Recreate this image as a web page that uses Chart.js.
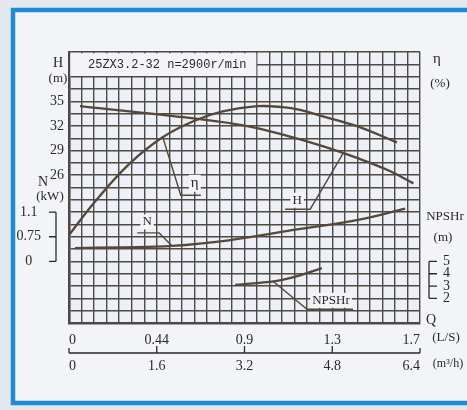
<!DOCTYPE html>
<html>
<head>
<meta charset="utf-8">
<script src="https://cdn.jsdelivr.net/npm/chart.js@4.4.1/dist/chart.umd.min.js"></script>
<style>
  html, body { margin: 0; padding: 0; background: #e3e8ee; }
  canvas { display: block; }
</style>
</head>
<body>
<canvas id="pumpChart" width="467" height="410"></canvas>
<script>
// --- data (flow in m3/h) ---
const title = '25ZX3.2-32 n=2900r/min';

const qHead = [0.2, 1.7, 3.15, 4.03, 4.64, 5.25, 5.85, 6.28];
const head = [34.4, 33.35, 32.1, 30.7, 29.5, 28.1, 26.5, 25.0];

const qEta = [0, 0.48, 1.09, 1.7, 2.3, 2.8, 3.43, 3.9, 4.21, 4.63, 5.25, 5.98];
const eta = [-14.3, -0.6, 14.4, 25.3, 32.2, 35.9, 38.0, 37.6, 36.5, 33.9, 29.9, 23.3];

const qPower = [0.11, 0.93, 1.88, 2.91, 4.13, 5.34, 6.13];
const power = [0.59, 0.6, 0.62, 0.7, 0.85, 1.0, 1.15];

const qNpsh = [3.03, 3.76, 4.13, 4.61];
const npshr = [3.1, 3.4, 3.76, 4.45];

// tick labels
const qLsLabels = ['0', '0.44', '0.9', '1.3', '1.7'];
const qM3Labels = ['0', '1.6', '3.2', '4.8', '6.4'];
const headTicks = [26, 29, 32, 35];
const powerTicks = [0.4, 0.75, 1.1];      // axis is broken: bottom tick is printed as 0
const powerTickLabels = ['0', '0.75', '1.1'];
const etaTicks = [15, 25, 35];
const npshTicks = [2, 3, 4, 5];

// --- styles ---
const gridColor = '#4f4944';
const curveColor = '#56473b';
const textColor = '#2c2826';
const paperColor = '#f2f4f8';
const serif = '"Liberation Serif", "Times New Roman", serif';
const numFont = { family: serif, size: 14 };
const COLS = 28, ROWS = 22;

const pts = (xs, ys) => xs.map((x, i) => ({ x: x, y: ys[i] }));
const curve = (label, xs, ys, axis) => ({
    label: label,
    data: pts(xs, ys),
    yAxisID: axis,
    showLine: true,
    borderColor: curveColor,
    borderWidth: 2.3,
    pointRadius: 0,
    tension: 0.4
});

// labels with leader lines: anchor on curve at q, elbow offset, run, text offset from elbow
const curveLabels = [
    { text: 'η', ds: 1, q: 1.71, dx: 18, dy: 58, run: 20, tx: 14, ty: -12, size: 15 },
    { text: 'N', ds: 2, q: 1.88, dx: -13, dy: -13, run: -22, tx: -12, ty: -11, size: 13 },
    { text: 'H', ds: 0, q: 5.0, dx: -33, dy: 56, run: -25, tx: -13, ty: -9, size: 13 },
    { text: 'NPSHr', ds: 3, q: 3.72, dx: 34, dy: 28, run: 46, tx: 24, ty: -9, size: 13 }
];

function interp(xs, ys, q) {
    for (let i = 0; i < xs.length - 1; i++) {
        if (q >= xs[i] && q <= xs[i + 1]) {
            const t = (q - xs[i]) / (xs[i + 1] - xs[i]);
            return ys[i] + t * (ys[i + 1] - ys[i]);
        }
    }
    return ys[ys.length - 1];
}

function boxedText(ctx, text, x, y, size) {
    ctx.font = size + 'px ' + serif;
    const w = ctx.measureText(text).width;
    ctx.fillStyle = paperColor;
    ctx.fillRect(x - w / 2 - 2, y - size / 2 - 1, w + 4, size + 2);
    ctx.fillStyle = textColor;
    ctx.textAlign = 'center';
    ctx.textBaseline = 'middle';
    ctx.fillText(text, x, y);
}

function plainText(ctx, text, x, y, size, family) {
    ctx.font = size + 'px ' + (family || serif);
    ctx.fillStyle = textColor;
    ctx.textAlign = 'center';
    ctx.textBaseline = 'middle';
    ctx.fillText(text, x, y);
}

const sheet = {
    id: 'sheet',
    beforeDraw(chart) {
        const ctx = chart.ctx, a = chart.chartArea;
        ctx.save();
        ctx.fillStyle = '#e3e8ee';
        ctx.fillRect(0, 0, chart.width, chart.height);
        ctx.fillStyle = paperColor;
        ctx.fillRect(14, 12, 470, 389);
        ctx.strokeStyle = '#1d8bd6';
        ctx.lineWidth = 4.5;
        ctx.strokeRect(13, 10, 475, 393);
        ctx.fillStyle = '#edf0f6';
        ctx.fillRect(a.left, a.top, a.right - a.left, a.bottom - a.top);
        ctx.restore();
    },
    beforeDatasetsDraw(chart) {
        // title box over the top-left block of the grid
        const ctx = chart.ctx, a = chart.chartArea;
        const xr = chart.scales.x.getPixelForValue(15 * 6.4 / COLS);
        const yb = chart.scales.y.getPixelForValue(41 - 2 * 1.5);
        ctx.save();
        ctx.fillStyle = paperColor;
        ctx.fillRect(a.left + 1.3, a.top + 1.3, xr - a.left - 2, yb - a.top - 2);
        ctx.font = '12px "Liberation Mono", monospace';
        ctx.fillStyle = textColor;
        ctx.textAlign = 'left';
        ctx.textBaseline = 'middle';
        ctx.fillText(title, a.left + 19, (a.top + yb) / 2 + 1);
        ctx.restore();
    },
    afterDatasetsDraw(chart) {
        const ctx = chart.ctx, a = chart.chartArea, s = chart.scales;
        ctx.save();
        ctx.strokeStyle = curveColor;
        ctx.lineWidth = 1.4;

        // leader lines and curve names
        curveLabels.forEach(l => {
            const ds = chart.data.datasets[l.ds];
            const xs = ds.data.map(p => p.x), ys = ds.data.map(p => p.y);
            const ax = s.x.getPixelForValue(l.q);
            const ay = s[ds.yAxisID].getPixelForValue(interp(xs, ys, l.q));
            const ex = ax + l.dx, ey = ay + l.dy;
            ctx.beginPath();
            ctx.moveTo(ax, ay);
            ctx.lineTo(ex, ey);
            ctx.lineTo(ex + l.run, ey);
            ctx.stroke();
            boxedText(ctx, l.text, ex + l.tx, ey + l.ty, l.size);
        });

        // brackets for the power and NPSHr scales
        ctx.strokeStyle = textColor;
        ctx.lineWidth = 1.3;
        const bx = a.left - 13;
        const nPx = powerTicks.map(v => s.n.getPixelForValue(v));
        ctx.beginPath();
        ctx.moveTo(bx, nPx[0]); ctx.lineTo(bx, nPx[nPx.length - 1]);
        nPx.forEach(y => { ctx.moveTo(bx, y); ctx.lineTo(bx - 7, y); });
        const rx = a.right + 9;
        const pPx = npshTicks.map(v => s.npsh.getPixelForValue(v));
        ctx.moveTo(rx, pPx[0]); ctx.lineTo(rx, pPx[pPx.length - 1]);
        pPx.forEach(y => { ctx.moveTo(rx, y); ctx.lineTo(rx + 8, y); });
        // flow scale bracket
        const by = a.bottom + 30;
        ctx.moveTo(s.x.getPixelForValue(0), by);
        ctx.lineTo(s.x.getPixelForValue(6.4), by);
        qM3Labels.forEach((t, i) => {
            const x = s.x.getPixelForValue(i * 1.6);
            ctx.moveTo(x, by); ctx.lineTo(x, by - (i % 4 === 0 ? 5 : 7));
        });
        ctx.stroke();

        // axis names and units
        plainText(ctx, 'H', a.left - 11, a.top + 11, 14);
        plainText(ctx, '(m)', a.left - 11, a.top + 27, 13);
        plainText(ctx, 'N', a.left - 26, a.top + 130, 14);
        plainText(ctx, '(kW)', a.left - 19, a.top + 145, 13);
        plainText(ctx, 'η', a.right + 17, a.top + 7, 15);
        plainText(ctx, '(%)', a.right + 20, a.top + 32, 13);
        plainText(ctx, 'NPSHr', a.right + 25, a.top + 165, 13);
        plainText(ctx, '(m)', a.right + 23, a.top + 186, 13);
        plainText(ctx, 'Q', a.right + 11, a.bottom - 3, 14);
        plainText(ctx, '(L/S)', a.right + 26, a.bottom + 15, 13);
        plainText(ctx, '(m³/h)', a.right + 28, a.bottom + 41, 12);
        ctx.restore();
    }
};

const fixedSize = (prop, v) => s => { s[prop] = v; };

new Chart(document.getElementById('pumpChart'), {
    type: 'scatter',
    data: {
        datasets: [
            curve('H', qHead, head, 'y'),
            curve('η', qEta, eta, 'eta'),
            curve('N', qPower, power, 'n'),
            curve('NPSHr', qNpsh, npshr, 'npsh')
        ]
    },
    options: {
        responsive: false,
        animation: false,
        layout: { padding: { top: 52, left: 0, right: 0, bottom: 27 } },
        plugins: { legend: { display: false }, tooltip: { enabled: false } },
        scales: {
            x: {
                type: 'linear', position: 'bottom', weight: 0, min: 0, max: 6.4,
                afterBuildTicks: s => { s.ticks = Array.from({ length: COLS + 1 }, (_, i) => ({ value: i * 6.4 / COLS })); },
                afterFit: fixedSize('height', 30),
                grid: { color: gridColor, lineWidth: 1.4, drawTicks: false },
                border: { color: gridColor, width: 2.6 },
                ticks: {
                    autoSkip: false, maxRotation: 0, padding: 9, align: 'inner', color: textColor, font: numFont,
                    callback: (v, i) => i % 7 === 0 ? qLsLabels[i / 7] : ''
                }
            },
            x2: {
                type: 'linear', position: 'bottom', weight: 1, min: 0, max: 6.4,
                afterBuildTicks: s => { s.ticks = qM3Labels.map((t, i) => ({ value: i * 1.6 })); },
                afterFit: fixedSize('height', 30),
                grid: { display: false, drawTicks: false },
                border: { display: false },
                ticks: {
                    autoSkip: false, maxRotation: 0, padding: 5, align: 'inner', color: textColor, font: numFont,
                    callback: (v, i) => qM3Labels[i]
                }
            },
            y: {
                type: 'linear', position: 'left', weight: 0, min: 8, max: 41,
                afterBuildTicks: s => { s.ticks = Array.from({ length: ROWS + 1 }, (_, i) => ({ value: 8 + i * 1.5 })); },
                afterFit: fixedSize('width', 24),
                grid: { color: gridColor, lineWidth: 1.4, drawTicks: false },
                border: { color: gridColor, width: 2.6 },
                ticks: {
                    autoSkip: false, padding: 5, color: textColor, font: numFont,
                    callback: v => headTicks.includes(v) ? String(v) : ''
                }
            },
            n: {
                type: 'linear', position: 'left', weight: 1, min: -0.475, max: 3.375,
                afterBuildTicks: s => { s.ticks = powerTicks.map(v => ({ value: v })); },
                afterFit: fixedSize('width', 45),
                grid: { display: false, drawTicks: false },
                border: { display: false },
                ticks: {
                    autoSkip: false, padding: 4, crossAlign: 'center', color: textColor, font: numFont,
                    callback: (v, i) => powerTickLabels[i]
                }
            },
            eta: {
                type: 'linear', position: 'right', weight: 0, min: -50, max: 60,
                afterBuildTicks: s => { s.ticks = etaTicks.map(v => ({ value: v })); },
                afterFit: fixedSize('width', 10),
                grid: { display: false, drawTicks: false },
                border: { display: false },
                ticks: { autoSkip: false, padding: 12, color: textColor, font: numFont }
            },
            npsh: {
                type: 'linear', position: 'right', weight: 1, min: 0, max: 22,
                afterBuildTicks: s => { s.ticks = npshTicks.map(v => ({ value: v })); },
                afterFit: fixedSize('width', 37),
                grid: { display: false, drawTicks: false },
                border: { display: false },
                ticks: { autoSkip: false, padding: 13, color: textColor, font: numFont }
            }
        }
    },
    plugins: [sheet]
});
</script>
</body>
</html>
